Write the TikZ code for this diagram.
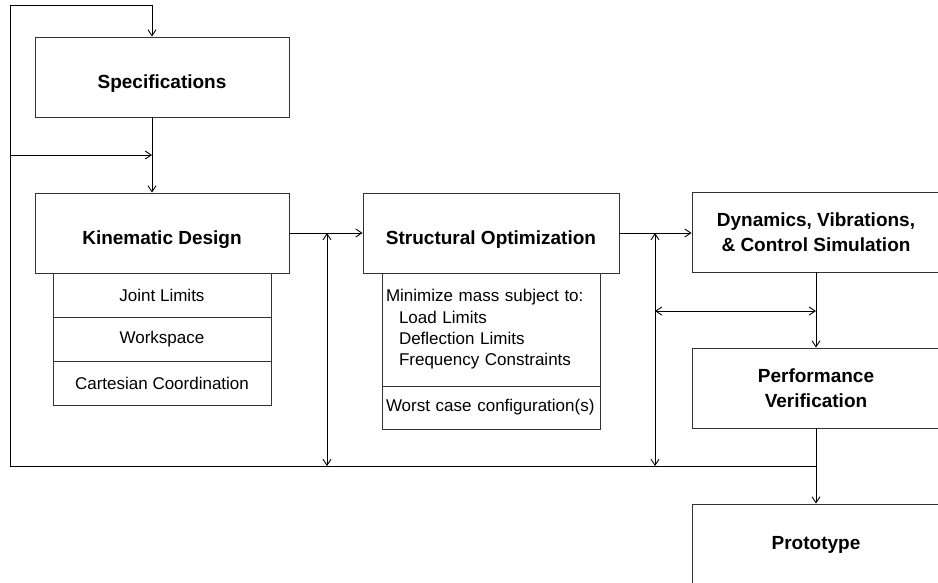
\documentclass[tikz,border=0pt]{standalone}
\usepackage{fontspec}
\setmainfont{Liberation Sans}
\usetikzlibrary{arrows.meta}

\tikzset{
  mainbox/.style={draw=black!80, line width=0.9pt, minimum width=254pt, minimum height=80pt,
    align=center, font=\fontsize{19}{25}\selectfont\bfseries},
  oneline/.style={text height=22pt, text depth=0pt},
  subbox/.style={draw=black!80, line width=0.9pt, minimum width=218pt, minimum height=44pt,
    font=\fontsize{17}{21.3}\selectfont},
  listbox/.style={subbox, inner xsep=4pt, text width=210pt, align=left},
}

\begin{document}
\begin{tikzpicture}[x=1pt, y=-1pt, line width=0.9pt, >={Straight Barb[length=6pt,width=8pt]}]
    \useasboundingbox (0,0) rectangle (938,582);
    % 方框
    \node[mainbox, oneline] (spec) at (162,77) {Specifications};
    \node[mainbox, oneline] (kin) at (162,233) {Kinematic Design};
    \node[subbox] (joint) at (162,295) {Joint Limits};
    \node[subbox] (work) at (162,339) {Workspace};
    \node[subbox] (cart) at (162,383) {Cartesian Coordination};

    \node[mainbox, oneline, minimum width=256pt] (struct) at (491,233) {Structural Optimization};
    \node[listbox, minimum height=113pt] (mass) at (491,329.5)
        {Minimize mass subject to:\\
         \hspace*{13pt}Load Limits\\
         \hspace*{13pt}Deflection Limits\\
         \hspace*{13pt}Frequency Constraints};
    \node[listbox, minimum height=43pt] (worst) at (491,407.5)
        {Worst case configuration(s)};

    \node[mainbox, minimum width=248pt] (dyn) at (816,232) {Dynamics, Vibrations,\\ \& Control Simulation};
    \node[mainbox, minimum width=248pt] (perf) at (816,388) {Performance\\ Verification};
    \node[mainbox, minimum width=248pt, minimum height=82pt] (proto) at (816,545) {Prototype};

    % 反馈回路
    \coordinate (fbtop) at (10,5);
    \coordinate (fbmid) at (10,155);
    \coordinate (fbbot) at (10,466);
    \coordinate (fbjoin) at (152,155);
    \draw[->] (fbbot) -- (fbtop) -| ([xshift=-10pt]spec.north);
    \draw[->] ([xshift=-10pt]spec.south) -- ([xshift=-10pt]kin.north);
    \draw[->] (fbmid) -- (fbjoin);
    \draw (fbbot) -- (fbbot -| perf.south);

    \draw[->] (kin) -- (struct);
    \draw[->] (struct) -- (dyn.west |- struct);
    \coordinate (up1) at (327,233);
    \coordinate (low1) at (327,466);
    \draw[<->] (up1) -- (low1);
    \coordinate (up2) at (655,233);
    \coordinate (low2) at (655,466);
    \draw[<->] (up2) -- (low2);
    \coordinate (side) at (655,311);
    \draw[<->] (side) -- (side -| dyn.south);

    \draw[->] (dyn) -- (perf);
    \draw[->] (perf) -- (proto);
\end{tikzpicture}
\end{document}
